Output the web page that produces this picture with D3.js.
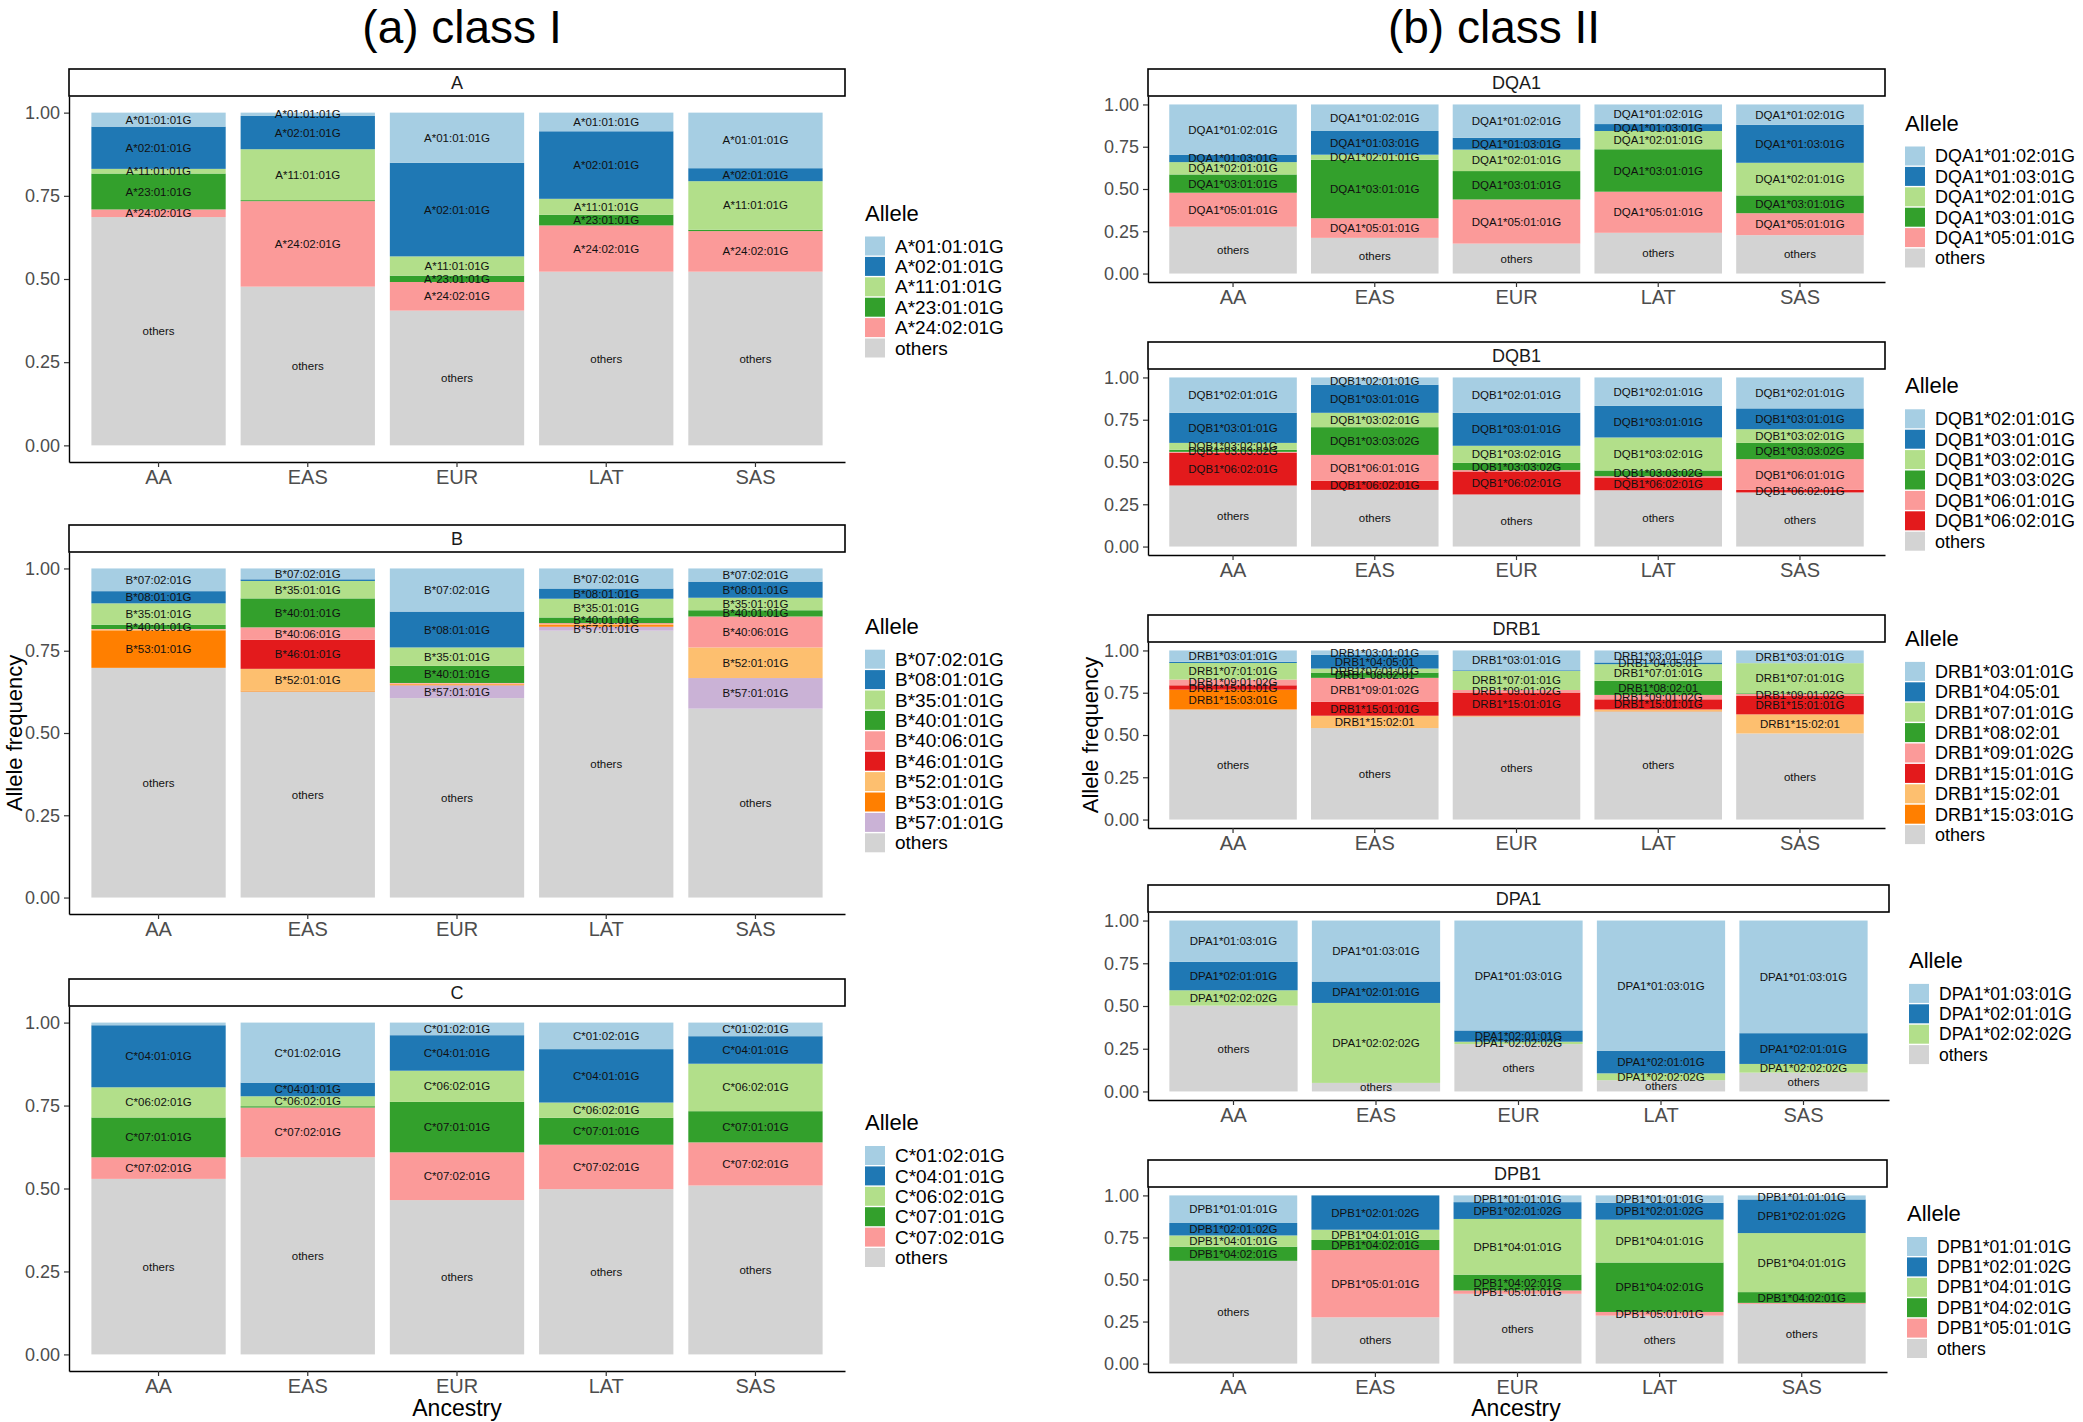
<!DOCTYPE html>
<html>
<head>
<meta charset="utf-8">
<script src="https://cdn.jsdelivr.net/npm/d3@7"></script>
<style>
  body { margin: 0; background: #fff; }
  text { font-family: "Liberation Sans", Arial, sans-serif; }
</style>
</head>
<body>
<script>
// ancestry groups on the x axis
const ancestries = ["AA", "EAS", "EUR", "LAT", "SAS"];
const yTicks = [0, 0.25, 0.5, 0.75, 1];

// RColorBrewer "Paired" + grey for others
const paired = ["#A6CEE3", "#1F78B4", "#B2DF8A", "#33A02C", "#FB9A99", "#E31A1C", "#FDBF6F", "#FF7F00", "#CAB2D6"];
const othersColor = "#D3D3D3";

// ---- class I ----
const allelesA = ["A*01:01:01G", "A*02:01:01G", "A*11:01:01G", "A*23:01:01G", "A*24:02:01G", "others"];
const freqA = [ // rows: AA, EAS, EUR, LAT, SAS
  [0.042, 0.127, 0.014, 0.108, 0.023, 0.686],
  [0.010, 0.100, 0.153, 0.003, 0.257, 0.477],
  [0.151, 0.281, 0.058, 0.019, 0.086, 0.405],
  [0.056, 0.203, 0.048, 0.032, 0.139, 0.522],
  [0.167, 0.039, 0.146, 0.004, 0.122, 0.522]
];

const allelesB = ["B*07:02:01G", "B*08:01:01G", "B*35:01:01G", "B*40:01:01G", "B*40:06:01G", "B*46:01:01G", "B*52:01:01G", "B*53:01:01G", "B*57:01:01G", "others"];
const freqB = [
  [0.069, 0.037, 0.065, 0.013, 0.002, 0.000, 0.002, 0.114, 0.000, 0.698],
  [0.033, 0.005, 0.053, 0.088, 0.038, 0.088, 0.066, 0.003, 0.000, 0.626],
  [0.131, 0.109, 0.056, 0.052, 0.002, 0.000, 0.002, 0.003, 0.039, 0.606],
  [0.061, 0.031, 0.057, 0.017, 0.003, 0.000, 0.003, 0.005, 0.012, 0.811],
  [0.040, 0.049, 0.038, 0.019, 0.094, 0.000, 0.093, 0.000, 0.093, 0.574]
];

const allelesC = ["C*01:02:01G", "C*04:01:01G", "C*06:02:01G", "C*07:01:01G", "C*07:02:01G", "others"];
const freqC = [
  [0.008, 0.187, 0.091, 0.120, 0.065, 0.529],
  [0.181, 0.041, 0.030, 0.004, 0.150, 0.594],
  [0.038, 0.107, 0.094, 0.152, 0.144, 0.465],
  [0.080, 0.161, 0.046, 0.081, 0.134, 0.498],
  [0.041, 0.083, 0.143, 0.094, 0.130, 0.509]
];

// ---- class II ----
const allelesDQA1 = ["DQA1*01:02:01G", "DQA1*01:03:01G", "DQA1*02:01:01G", "DQA1*03:01:01G", "DQA1*05:01:01G", "others"];
const freqDQA1 = [
  [0.297, 0.044, 0.073, 0.108, 0.201, 0.277],
  [0.157, 0.140, 0.030, 0.346, 0.116, 0.211],
  [0.197, 0.070, 0.127, 0.168, 0.261, 0.177],
  [0.116, 0.041, 0.108, 0.251, 0.243, 0.241],
  [0.120, 0.225, 0.193, 0.105, 0.130, 0.227]
];

const allelesDQB1 = ["DQB1*02:01:01G", "DQB1*03:01:01G", "DQB1*03:02:01G", "DQB1*03:03:02G", "DQB1*06:01:01G", "DQB1*06:02:01G", "others"];
const freqDQB1 = [
  [0.209, 0.178, 0.041, 0.012, 0.006, 0.193, 0.361],
  [0.043, 0.166, 0.085, 0.164, 0.153, 0.054, 0.335],
  [0.209, 0.195, 0.101, 0.043, 0.008, 0.136, 0.308],
  [0.168, 0.187, 0.195, 0.034, 0.008, 0.075, 0.333],
  [0.183, 0.123, 0.081, 0.096, 0.182, 0.015, 0.320]
];

const allelesDRB1 = ["DRB1*03:01:01G", "DRB1*04:05:01", "DRB1*07:01:01G", "DRB1*08:02:01", "DRB1*09:01:02G", "DRB1*15:01:01G", "DRB1*15:02:01", "DRB1*15:03:01G", "others"];
const freqDRB1 = [
  [0.067, 0.007, 0.098, 0.000, 0.034, 0.026, 0.000, 0.117, 0.651],
  [0.026, 0.081, 0.024, 0.031, 0.141, 0.083, 0.073, 0.000, 0.541],
  [0.117, 0.004, 0.113, 0.000, 0.015, 0.137, 0.002, 0.002, 0.610],
  [0.071, 0.010, 0.099, 0.083, 0.026, 0.060, 0.006, 0.005, 0.640],
  [0.075, 0.000, 0.178, 0.004, 0.012, 0.109, 0.113, 0.000, 0.509]
];

const allelesDPA1 = ["DPA1*01:03:01G", "DPA1*02:01:01G", "DPA1*02:02:02G", "others"];
const freqDPA1 = [
  [0.241, 0.167, 0.090, 0.502],
  [0.357, 0.125, 0.468, 0.050],
  [0.643, 0.066, 0.014, 0.277],
  [0.763, 0.131, 0.040, 0.066],
  [0.659, 0.180, 0.051, 0.110]
];

const allelesDPB1 = ["DPB1*01:01:01G", "DPB1*02:01:02G", "DPB1*04:01:01G", "DPB1*04:02:01G", "DPB1*05:01:01G", "others"];
const freqDPB1 = [
  [0.164, 0.074, 0.067, 0.084, 0.000, 0.611],
  [0.000, 0.204, 0.061, 0.060, 0.400, 0.275],
  [0.040, 0.100, 0.331, 0.094, 0.020, 0.415],
  [0.044, 0.100, 0.255, 0.294, 0.022, 0.285],
  [0.024, 0.200, 0.351, 0.064, 0.006, 0.355]
];

// panel layout table
const panels = [
  {name: "A",    alleles: allelesA,    freqs: freqA,    x0: 69,   x1: 845,  stripTop: 69,  axisY: 462,  legFont: 19},
  {name: "B",    alleles: allelesB,    freqs: freqB,    x0: 69,   x1: 845,  stripTop: 525, axisY: 914,  legFont: 19},
  {name: "C",    alleles: allelesC,    freqs: freqC,    x0: 69,   x1: 845,  stripTop: 979, axisY: 1371, legFont: 19},
  {name: "DQA1", alleles: allelesDQA1, freqs: freqDQA1, x0: 1148, x1: 1885, stripTop: 69,  axisY: 282,  legFont: 18},
  {name: "DQB1", alleles: allelesDQB1, freqs: freqDQB1, x0: 1148, x1: 1885, stripTop: 342, axisY: 555,  legFont: 18},
  {name: "DRB1", alleles: allelesDRB1, freqs: freqDRB1, x0: 1148, x1: 1885, stripTop: 615, axisY: 828,  legFont: 18},
  {name: "DPA1", alleles: allelesDPA1, freqs: freqDPA1, x0: 1148, x1: 1889, stripTop: 885, axisY: 1100, legFont: 17.5},
  {name: "DPB1", alleles: allelesDPB1, freqs: freqDPB1, x0: 1148, x1: 1887, stripTop: 1160, axisY: 1372, legFont: 17.5}
];

const svg = d3.select("body").append("svg")
  .attr("width", 2083).attr("height", 1422);

function drawPanel(p) {
  const g = svg.append("g");
  const stripH = 27;
  const plotTop = p.stripTop + stripH;

  const x = d3.scaleBand().domain(ancestries).range([p.x0, p.x1])
    .paddingInner(0.1).paddingOuter(0.15);
  const y = d3.scaleLinear().domain([-0.05, 1.05]).range([p.axisY, plotTop]);
  const color = d3.scaleOrdinal().domain(p.alleles)
    .range(p.alleles.map((a, j) => a === "others" ? othersColor : paired[j]));

  // rows keyed by allele, stacked with "others" at the bottom
  const rows = ancestries.map((anc, i) => {
    const o = {anc: anc};
    p.alleles.forEach((a, j) => o[a] = p.freqs[i][j]);
    return o;
  });
  const series = d3.stack().keys(p.alleles.slice().reverse())(rows);

  series.forEach(s => {
    g.append("g").selectAll("rect").data(s).join("rect")
      .attr("x", d => x(d.data.anc))
      .attr("width", x.bandwidth())
      .attr("y", d => y(d[1]))
      .attr("height", d => y(d[0]) - y(d[1]))
      .attr("fill", color(s.key));
  });

  // labels in the middle of each segment (tiny ones skipped)
  series.forEach(s => {
    g.append("g").selectAll("text").data(s.filter(d => d[1] - d[0] >= 0.009)).join("text")
      .attr("x", d => x(d.data.anc) + x.bandwidth() / 2)
      .attr("y", d => y((d[0] + d[1]) / 2))
      .attr("dy", "0.35em")
      .attr("text-anchor", "middle")
      .attr("font-size", 11.5)
      .attr("fill", "#111")
      .text(s.key);
  });

  // axes
  const yAxis = g.append("g").attr("transform", `translate(${p.x0},0)`)
    .call(d3.axisLeft(y).tickValues(yTicks).tickFormat(d3.format(".2f")).tickSize(5).tickSizeOuter(0).tickPadding(4));
  yAxis.selectAll("text").attr("font-size", 18).attr("fill", "#4D4D4D");

  const xAxis = g.append("g").attr("transform", `translate(0,${p.axisY})`)
    .call(d3.axisBottom(x).tickSize(5).tickSizeOuter(0).tickPadding(3));
  xAxis.selectAll("text").attr("font-size", 20).attr("fill", "#4D4D4D");

  [yAxis, xAxis].forEach(a => {
    a.select(".domain").attr("stroke", "#000").attr("stroke-width", 1.4);
    a.selectAll(".tick line").attr("stroke", "#333").attr("stroke-width", 1.2);
  });

  // facet strip
  g.append("rect")
    .attr("x", p.x0).attr("y", p.stripTop)
    .attr("width", p.x1 - p.x0).attr("height", stripH)
    .attr("fill", "#fff").attr("stroke", "#000").attr("stroke-width", 1.6);
  g.append("text")
    .attr("x", (p.x0 + p.x1) / 2).attr("y", p.stripTop + stripH / 2)
    .attr("dy", "0.35em").attr("text-anchor", "middle")
    .attr("font-size", 18).attr("fill", "#1a1a1a")
    .text(p.name);

  // legend
  const lx = p.x1 + 20;
  const rowH = 20.4;
  const blockH = 36 + p.alleles.length * rowH;
  const top = (p.stripTop + p.axisY + 27) / 2 - blockH / 2;
  const leg = g.append("g");
  leg.append("text").attr("x", lx).attr("y", top + 13).attr("dy", "0.35em")
    .attr("font-size", 22).attr("fill", "#000").text("Allele");
  const item = leg.selectAll("g.item").data(p.alleles).join("g")
    .attr("transform", (d, i) => `translate(${lx},${top + 36 + i * rowH + rowH / 2})`);
  item.append("rect").attr("x", 0).attr("y", -9.5).attr("width", 20).attr("height", 19)
    .attr("fill", d => color(d));
  item.append("text").attr("x", 30).attr("dy", "0.35em")
    .attr("font-size", p.legFont).attr("fill", "#000").text(d => d);
}

panels.forEach(drawPanel);

// column titles and axis titles
svg.append("text").attr("x", 462).attr("y", 43).attr("text-anchor", "middle")
  .attr("font-size", 46).text("(a) class I");
svg.append("text").attr("x", 1494).attr("y", 43).attr("text-anchor", "middle")
  .attr("font-size", 46).text("(b) class II");

[457, 1516].forEach(cx => {
  svg.append("text").attr("x", cx).attr("y", 1416).attr("text-anchor", "middle")
    .attr("font-size", 23).text("Ancestry");
});
[[22, 733], [1098, 735]].forEach(([cx, cy]) => {
  svg.append("text").attr("transform", `translate(${cx},${cy}) rotate(-90)`)
    .attr("text-anchor", "middle").attr("font-size", 22).text("Allele frequency");
});
</script>
</body>
</html>
